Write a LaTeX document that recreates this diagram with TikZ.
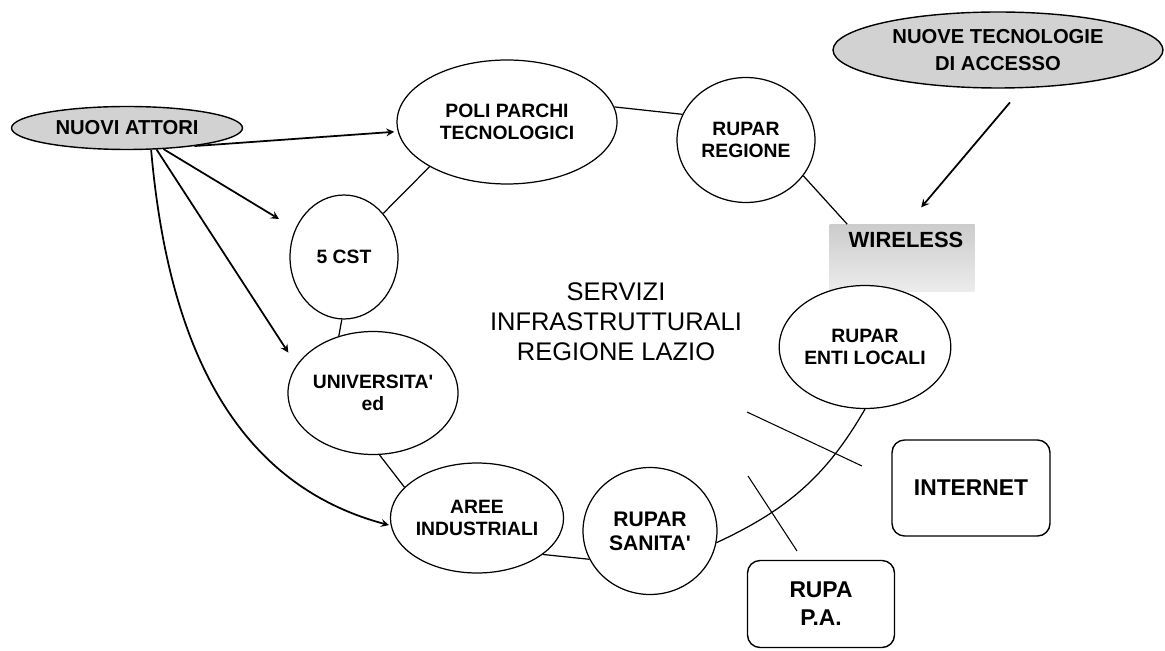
\documentclass[tikz,border=0pt]{standalone}
\usepackage{fontspec}
\setmainfont{Liberation Sans}
\usetikzlibrary{shapes.geometric, arrows, positioning}

\begin{document}
\begin{tikzpicture}[
    x=0.02cm, y=-0.02cm,
    bubble/.style={ellipse, draw, line width=0.7pt, fill=white, inner sep=0pt, align=center, font=\fontsize{11}{12.5}\selectfont\bfseries},
    hub/.style={ellipse, draw, line width=0.8pt, fill=gray!35, inner sep=0pt, align=center, font=\fontsize{11.5}{15}\selectfont\bfseries},
    netbox/.style={rectangle, draw, rounded corners=0.25cm, line width=0.8pt, align=center, font=\fontsize{13}{16}\selectfont\bfseries},
    ring/.style={line width=0.7pt},
    arrow/.style={->, >=stealth, line width=1pt},
    cut/.style={line width=0.6pt}
]
\useasboundingbox (0,0) rectangle (1165,651);

% ===== ACTORS =====
\node[hub, minimum width=4.62cm, minimum height=0.86cm] (attori) at (127,128) {NUOVI ATTORI};
\node[hub, minimum width=6.6cm, minimum height=1.52cm] (tecno) at (998,50) {NUOVE TECNOLOGIE\\DI ACCESSO};

% ===== WIRELESS =====
\node[top color=gray!40, bottom color=gray!15, minimum width=2.9cm, minimum height=1.34cm, inner sep=0pt] (wireless) at (902,258) {};
\node[font=\fontsize{12.5}{14}\selectfont\bfseries] (wirelesslabel) at (906,240) {WIRELESS};

% ===== RING OF SERVICES =====
\node[bubble, minimum width=4.4cm, minimum height=2.48cm] (poli) at (507,122) {POLI PARCHI\\TECNOLOGICI};
\node[bubble, minimum width=2.76cm, minimum height=2.5cm] (regione) at (746,140) {RUPAR\\REGIONE};
\node[bubble, minimum width=2.88cm, minimum height=2.46cm] (enti) at (865,347) {RUPAR\\ENTI LOCALI};
\node[bubble, minimum width=2.68cm, minimum height=2.54cm, font=\fontsize{12}{13.5}\selectfont\bfseries] (sanita) at (650,531) {RUPAR\\SANITA\textquotesingle};
\node[bubble, minimum width=3.18cm, minimum height=2.2cm] (aree) at (477,518) {AREE\\INDUSTRIALI};
\node[bubble, minimum width=3.32cm, minimum height=2.46cm] (univ) at (373,393) {UNIVERSITA\textquotesingle\\ed};
\node[bubble, minimum width=2.16cm, minimum height=2.48cm] (cst) at (344,257) {5 CST};

% ===== CENTRE =====
\node[font=\fontsize{14.5}{17}\selectfont, align=center] (servizi) at (616,322) {SERVIZI\\INFRASTRUTTURALI\\REGIONE LAZIO};

% ===== NETWORKS =====
\node[netbox, minimum width=3.16cm, minimum height=1.92cm] (internet) at (971,488) {INTERNET};
\node[netbox, minimum width=2.94cm, minimum height=1.74cm] (rupa) at (821,604) {RUPA\\P.A.};

% ===== RING LINKS =====
\draw[ring] (poli.8) -- (regione.158);
\draw[ring] (regione.-32) -- ([xshift=0.36cm]wireless.north west);
\draw[ring] (enti.south) to[out=-120, in=25] (sanita.-10);
\draw[ring] (sanita.205) -- (aree.-29);
\draw[ring] (aree.157) -- (univ.-84);
\draw[ring] (univ.121) -- (cst.-92);
\draw[ring] (cst.48) -- (poli.210);

% ===== CUT MARKS =====
\coordinate (cutA) at (747,412);
\coordinate (cutB) at (862,466);
\coordinate (cutC) at (748,476);
\coordinate (cutD) at (797,551);
\draw[cut] (cutA) -- (cutB);
\draw[cut] (cutC) -- (cutD);

% ===== ARROWS: new actors =====
\draw[arrow, shorten >=2pt] (attori.-15) -- (poli.185);
\draw[arrow, shorten >=0.38cm] (attori.-30) -- (cst.150);
\draw[arrow, shorten >=0.3cm] (attori.-36) -- (univ.160);
\draw[arrow, shorten >=1pt] (attori.-42) to[out=-85, in=165] (aree.185);

% ===== ARROW: new access technologies =====
\draw[arrow, shorten <=0.37cm, shorten >=0.44cm] (tecno.-58) -- ([xshift=0.1cm]wireless.north);

\end{tikzpicture}
\end{document}
